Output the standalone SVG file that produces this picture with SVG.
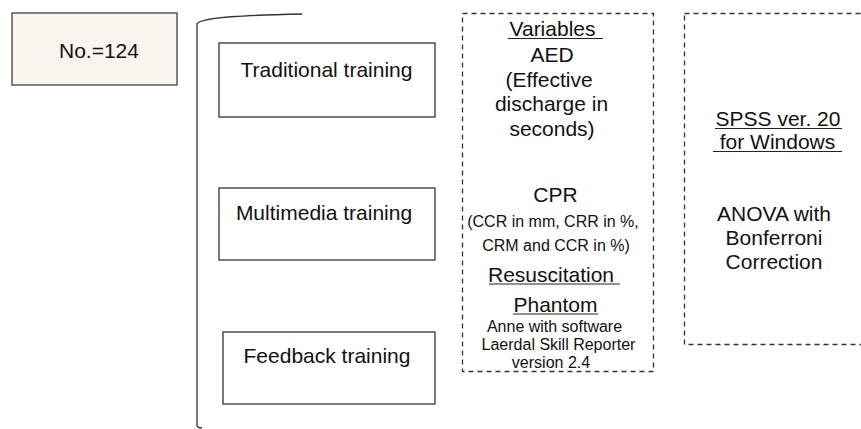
<svg xmlns="http://www.w3.org/2000/svg" width="861" height="429" viewBox="0 0 861 429">
<style>
text{font-family:"Liberation Sans",Arial,sans-serif;fill:#111;text-anchor:middle}
.b{font-size:21px}
.s{font-size:16px}
.box{fill:#fff;stroke:#222;stroke-width:1.2}
.dash{fill:none;stroke:#333;stroke-width:1.3;stroke-dasharray:5,4}
.ul{stroke:#222;stroke-width:1.2}
</style>
<rect width="861" height="429" fill="#fff"/>
<g id="n-count">
<rect x="12" y="13" width="165" height="72" fill="#faf5ef" stroke="#333" stroke-width="1.2"/>
<text class="b" x="99" y="58">No.=124</text>
</g>
<g id="connectors">
<path d="M302 14 C250 15 200 17 197 24 L197 426 Q198 428 202 428" fill="none" stroke="#333" stroke-width="1.3"/>
</g>
<g id="n-traditional">
<rect class="box" x="219" y="43" width="216" height="74"/>
<text class="b" x="326.5" y="77">Traditional training</text>
</g>
<g id="n-multimedia">
<rect class="box" x="219" y="188" width="216" height="72"/>
<text class="b" x="324" y="220">Multimedia training</text>
</g>
<g id="n-feedback">
<rect class="box" x="223" y="332" width="212" height="72"/>
<text class="b" x="327" y="363">Feedback training</text>
</g>
<g id="n-variables">
<rect class="dash" x="462.5" y="13.5" width="191" height="358"/>
<text class="b" x="552.5" y="36">Variables</text>
<line class="ul" x1="508" y1="38.5" x2="603" y2="38.5"/>
<text class="b" x="552" y="62">AED</text>
<text class="b" x="549" y="86.5">(Effective</text>
<text class="b" x="551.5" y="111">discharge in</text>
<text class="b" x="552" y="135.5">seconds)</text>
<text class="b" x="555.5" y="202">CPR</text>
<text class="s" x="553" y="227">(CCR in mm, CRR in %,</text>
<text class="s" x="556" y="251">CRM and CCR in %)</text>
<text class="b" x="551" y="282">Resuscitation</text>
<line class="ul" x1="489" y1="284" x2="620" y2="284"/>
<text class="b" x="555.5" y="312">Phantom</text>
<line class="ul" x1="513" y1="314" x2="598" y2="314"/>
<text class="s" x="554.5" y="332">Anne with software</text>
<text class="s" x="558.5" y="350">Laerdal Skill Reporter</text>
<text class="s" x="551" y="368">version 2.4</text>
</g>
<g id="n-analysis">
<rect class="dash" x="684.5" y="13.5" width="190" height="331"/>
<text class="b" x="778" y="126">SPSS ver. 20</text>
<line class="ul" x1="715" y1="128.5" x2="842" y2="128.5"/>
<text class="b" x="777.5" y="149">for Windows</text>
<line class="ul" x1="713" y1="151.5" x2="842" y2="151.5"/>
<text class="b" x="774" y="221">ANOVA with</text>
<text class="b" x="774" y="245">Bonferroni</text>
<text class="b" x="774" y="269">Correction</text>
</g>
</svg>
